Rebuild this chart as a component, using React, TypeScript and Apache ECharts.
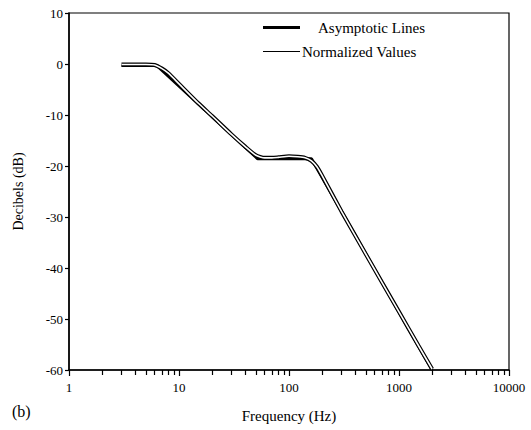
import React, { useEffect, useRef } from "react";
import * as echarts from "echarts";

const asymFreq = [3, 6.3, 52, 160, 2000];
const asymDb = [-0.3, -0.3, -18.6, -18.6, -60];

const normFreq = [3, 4, 5, 6, 7, 8, 10, 15, 20, 30, 40, 50, 60, 70, 80, 100, 120, 140, 160, 180, 200, 300, 500, 700, 1000, 1500, 2000];
const normDb = [-0.1, -0.1, -0.1, -0.2, -0.9, -1.8, -3.9, -7.7, -10.2, -13.8, -16.2, -17.9, -18.4, -18.4, -18.3, -18.1, -18.2, -18.4, -19.0, -20.2, -21.9, -28.9, -37.3, -42.8, -48.6, -55.2, -59.8];

const xTickLabels = ["1", "10", "100", "1000", "10000"];

const FONT = "Liberation Serif";

export default function App() {
  const ref = useRef<HTMLDivElement>(null);
  useEffect(() => {
    if (!ref.current) return;
    const chart = echarts.init(ref.current, null, { renderer: "svg" });
    const asym = asymFreq.map((f, i) => [f, asymDb[i]]);
    const norm = normFreq.map((f, i) => [f, normDb[i]]);
    chart.setOption({
      animation: false,
      backgroundColor: "#fff",
      textStyle: { fontFamily: FONT, color: "#000" },
      grid: {
        left: 69,
        right: 22,
        top: 13,
        bottom: 60,
        show: true,
        borderColor: "#000",
        borderWidth: 1.2,
      },
      legend: [
        {
          left: 263,
          top: 20,
          padding: 0,
          itemWidth: 37,
          itemHeight: 3,
          icon: "rect",
          data: [{ name: "Asymptotic Lines", itemStyle: { color: "#000" } }],
          textStyle: { fontFamily: FONT, fontSize: 15, color: "#000", padding: [0, 0, 0, 13] },
          selectedMode: false,
        },
        {
          left: 263,
          top: 44,
          padding: 0,
          itemWidth: 37,
          itemHeight: 1,
          icon: "rect",
          data: [{ name: "Normalized Values", itemStyle: { color: "#000" } }],
          textStyle: { fontFamily: FONT, fontSize: 15, color: "#000", padding: [0, 0, 0, -3] },
          selectedMode: false,
        },
      ],
      xAxis: {
        type: "log",
        logBase: 10,
        min: 1,
        max: 10000,
        name: "Frequency (Hz)",
        nameLocation: "middle",
        nameGap: 38,
        nameTextStyle: { fontFamily: FONT, fontSize: 15, color: "#000" },
        axisLine: { onZero: false, lineStyle: { color: "#000", width: 1.5 } },
        axisTick: { show: true, inside: false, length: 6, lineStyle: { color: "#000", width: 1.2 } },
        minorTick: { show: true, splitNumber: 9, length: 5, lineStyle: { color: "#000", width: 1.2 } },
        splitLine: { show: false },
        minorSplitLine: { show: false },
        axisLabel: {
          fontFamily: FONT,
          fontSize: 13,
          color: "#000",
          margin: 11,
          formatter: (v: number) => {
            const idx = Math.round(Math.log10(v));
            return xTickLabels[idx] ?? String(v);
          },
        },
      },
      yAxis: {
        type: "value",
        min: -60,
        max: 10,
        interval: 10,
        name: "Decibels (dB)",
        nameLocation: "middle",
        nameGap: 44,
        nameRotate: 90,
        nameTextStyle: { fontFamily: FONT, fontSize: 14, color: "#000" },
        axisLine: { show: true, lineStyle: { color: "#000", width: 1.5 } },
        axisTick: { show: true, length: 4, lineStyle: { color: "#000", width: 1.2 } },
        splitLine: { show: false },
        axisLabel: { fontFamily: FONT, fontSize: 13, color: "#000", margin: 6 },
      },
      series: [
        {
          name: "Asymptotic Lines",
          type: "line",
          data: asym,
          symbol: "none",
          lineStyle: { color: "#000", width: 3 },
          itemStyle: { color: "#000" },
          z: 2,
        },
        {
          name: "Normalized Values",
          type: "line",
          data: norm,
          symbol: "none",
          smooth: 0.2,
          lineStyle: { color: "#000", width: 4 },
          itemStyle: { color: "#000" },
          z: 3,
        },
        {
          name: "normInner",
          type: "line",
          data: norm,
          symbol: "none",
          smooth: 0.2,
          lineStyle: { color: "#fff", width: 1.6 },
          z: 4,
          silent: true,
        },
      ],
      graphic: [
        {
          type: "text",
          left: 12,
          top: 403,
          style: { text: "(b)", fontFamily: FONT, fontSize: 16, fill: "#000" },
        },
      ],
    });
    return () => chart.dispose();
  }, []);
  return (
    <div
      ref={ref}
      style={{ position: "absolute", left: 0, top: 0, width: 531, height: 430 }}
    />
  );
}
